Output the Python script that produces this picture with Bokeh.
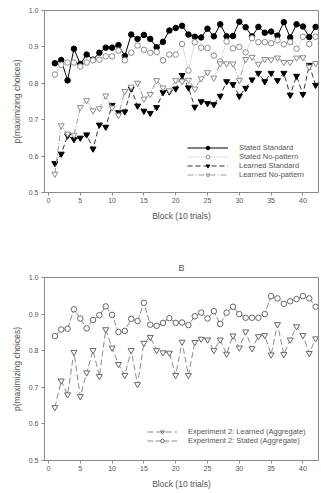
from bokeh.plotting import figure
from bokeh.models import Range1d, Legend, LegendItem, FixedTicker, PrintfTickFormatter
from bokeh.layouts import column
from bokeh.embed import file_html
from bokeh.resources import INLINE

blocks = list(range(1, 43))

stated_standard = [0.855, 0.864, 0.808, 0.895, 0.853, 0.879, 0.865, 0.884, 0.898, 0.898,
                   0.905, 0.875, 0.934, 0.922, 0.933, 0.922, 0.899, 0.914, 0.945, 0.952,
                   0.958, 0.934, 0.928, 0.926, 0.950, 0.929, 0.962, 0.929, 0.930, 0.969,
                   0.954, 0.929, 0.955, 0.939, 0.942, 0.931, 0.968, 0.926, 0.962, 0.956,
                   0.927, 0.955]
stated_nopattern = [0.824, 0.851, 0.857, 0.857, 0.846, 0.857, 0.863, 0.865, 0.874, 0.874,
                    0.890, 0.863, 0.884, 0.904, 0.892, 0.884, 0.886, 0.863, 0.879, 0.879,
                    0.908, 0.835, 0.913, 0.898, 0.897, 0.876, 0.860, 0.915, 0.896, 0.900,
                    0.885, 0.924, 0.913, 0.913, 0.910, 0.918, 0.907, 0.913, 0.895, 0.928,
                    0.908, 0.928]
learned_standard = [0.580, 0.606, 0.656, 0.646, 0.650, 0.659, 0.620, 0.686, 0.680, 0.740,
                    0.720, 0.722, 0.785, 0.738, 0.724, 0.718, 0.734, 0.775, 0.777, 0.785,
                    0.822, 0.788, 0.735, 0.750, 0.745, 0.742, 0.765, 0.805, 0.797, 0.765,
                    0.787, 0.810, 0.828, 0.805, 0.828, 0.808, 0.828, 0.768, 0.820, 0.770,
                    0.850, 0.795]
learned_nopattern = [0.551, 0.684, 0.661, 0.658, 0.734, 0.753, 0.725, 0.731, 0.766, 0.733,
                     0.712, 0.778, 0.790, 0.801, 0.757, 0.770, 0.808, 0.788, 0.780, 0.808,
                     0.805, 0.809, 0.785, 0.813, 0.830, 0.815, 0.854, 0.854, 0.854, 0.808,
                     0.866, 0.872, 0.853, 0.866, 0.865, 0.870, 0.858, 0.858, 0.870, 0.871,
                     0.845, 0.855]

exp2_learned = [0.645, 0.718, 0.680, 0.796, 0.675, 0.740, 0.801, 0.730, 0.858, 0.808,
                0.763, 0.733, 0.801, 0.708, 0.821, 0.837, 0.801, 0.795, 0.794, 0.733,
                0.824, 0.733, 0.823, 0.832, 0.830, 0.801, 0.830, 0.791, 0.841, 0.808,
                0.852, 0.806, 0.839, 0.842, 0.789, 0.872, 0.790, 0.830, 0.866, 0.842,
                0.793, 0.833]
exp2_stated = [0.840, 0.858, 0.860, 0.913, 0.888, 0.861, 0.884, 0.897, 0.921, 0.898,
               0.851, 0.854, 0.887, 0.881, 0.931, 0.871, 0.868, 0.876, 0.889, 0.876,
               0.877, 0.870, 0.894, 0.904, 0.888, 0.908, 0.873, 0.904, 0.920, 0.900,
               0.890, 0.890, 0.890, 0.900, 0.949, 0.943, 0.928, 0.935, 0.941, 0.949,
               0.943, 0.920]

x_ticks = [0, 5, 10, 15, 20, 25, 30, 35, 40]
y_ticks = [0.5, 0.6, 0.7, 0.8, 0.9, 1.0]

FONT = "Liberation Sans"
AX = "#8a8a8a"
TXT = "#555555"


def make_fig(height, top, bottom, title=None):
    p = figure(width=321, height=height, output_backend="svg", toolbar_location=None,
               x_range=Range1d(-0.63, 42.45), y_range=Range1d(0.5, 1.0),
               min_border_left=44, min_border_right=3, min_border_top=top,
               min_border_bottom=bottom, title=title)
    p.xgrid.visible = False
    p.ygrid.visible = False
    p.outline_line_color = AX
    p.outline_line_width = 1
    p.background_fill_color = "white"
    p.border_fill_color = "white"
    for ax in (p.xaxis[0], p.yaxis[0]):
        ax.axis_line_color = AX
        ax.major_tick_line_color = AX
        ax.minor_tick_line_color = None
        ax.major_tick_in = 0
        ax.major_tick_out = 3
        ax.major_label_text_font = FONT
        ax.major_label_text_font_size = "7px"
        ax.major_label_text_color = TXT
        ax.axis_label_text_font = FONT
        ax.axis_label_text_font_style = "normal"
        ax.axis_label_text_color = TXT
    p.xaxis.ticker = FixedTicker(ticks=x_ticks)
    p.yaxis.ticker = FixedTicker(ticks=y_ticks)
    p.yaxis.formatter = PrintfTickFormatter(format="%.1f")
    p.xaxis.major_label_standoff = 2
    p.yaxis.major_label_standoff = 3
    p.xaxis.axis_label = "Block (10 trials)"
    p.yaxis.axis_label = "p(maximizing choices)"
    p.xaxis.axis_label_text_font_size = "8.5px"
    p.yaxis.axis_label_text_font_size = "8.5px"
    p.xaxis.axis_label_standoff = 5
    p.yaxis.axis_label_standoff = 4
    return p


def style_legend(lg, gw):
    lg.glyph_width = gw
    lg.glyph_height = 9
    lg.label_height = 9
    lg.spacing = 0
    lg.padding = 0
    lg.margin = 0
    lg.label_standoff = 11
    lg.label_text_font = FONT
    lg.label_text_font_size = "7.5px"
    lg.label_text_color = TXT
    lg.border_line_color = None
    lg.background_fill_alpha = 0


# ---------- Panel A ----------
p1 = make_fig(232, 10, 40)

r1l = p1.line(blocks, stated_standard, line_color="black", line_width=1)
r1s = p1.scatter(blocks, stated_standard, marker="circle", size=5.5,
                 fill_color="black", line_color="black")
r2l = p1.line(blocks, stated_nopattern, line_color="#bdbdbd", line_width=1, line_dash="1 1")
r2s = p1.scatter(blocks, stated_nopattern, marker="circle", size=5.5,
                 fill_color="white", line_color="#8c8c8c")
r3l = p1.line(blocks, learned_standard, line_color="#333333", line_width=1, line_dash="5 3")
r3s = p1.scatter(blocks, learned_standard, marker="inverted_triangle", size=6,
                 fill_color="black", line_color="black")
r4l = p1.line(blocks, learned_nopattern, line_color="#9a9a9a", line_width=1, line_dash="6 2 1 2")
r4s = p1.scatter(blocks, learned_nopattern, marker="inverted_triangle", size=6,
                 fill_color="white", line_color="#8c8c8c")

leg1 = Legend(items=[
    LegendItem(label="Stated Standard", renderers=[r1l, r1s]),
    LegendItem(label="Stated No-pattern", renderers=[r2l, r2s]),
    LegendItem(label="Learned Standard", renderers=[r3l, r3s]),
    LegendItem(label="Learned No-pattern", renderers=[r4l, r4s]),
], location=(143, 13), orientation="vertical")
style_legend(leg1, 41)
p1.add_layout(leg1)

# ---------- Panel B ----------
p2 = make_fig(261, 45, 33, title="B")
p2.title.align = "center"
p2.title.text_font = FONT
p2.title.text_font_size = "9px"
p2.title.text_font_style = "normal"
p2.title.text_color = TXT
p2.title.offset = 0

q1l = p2.line(blocks, exp2_learned, line_color="#8c8c8c", line_width=1, line_dash="6 3")
q1s = p2.scatter(blocks, exp2_learned, marker="inverted_triangle", size=6,
                 fill_color="white", line_color="#666666")
q2l = p2.line(blocks, exp2_stated, line_color="#8c8c8c", line_width=1, line_dash="6 2")
q2s = p2.scatter(blocks, exp2_stated, marker="circle", size=5.5,
                 fill_color="white", line_color="#666666")

leg2 = Legend(items=[
    LegendItem(label="Experiment 2: Learned (Aggregate)", renderers=[q1l, q1s]),
    LegendItem(label="Experiment 2: Stated (Aggregate)", renderers=[q2l, q2s]),
], location=(103, 15), orientation="vertical")
style_legend(leg2, 30)
p2.add_layout(leg2)

layout = column(p1, p2, spacing=0)
open("out.html", "w").write(file_html(layout, INLINE))
